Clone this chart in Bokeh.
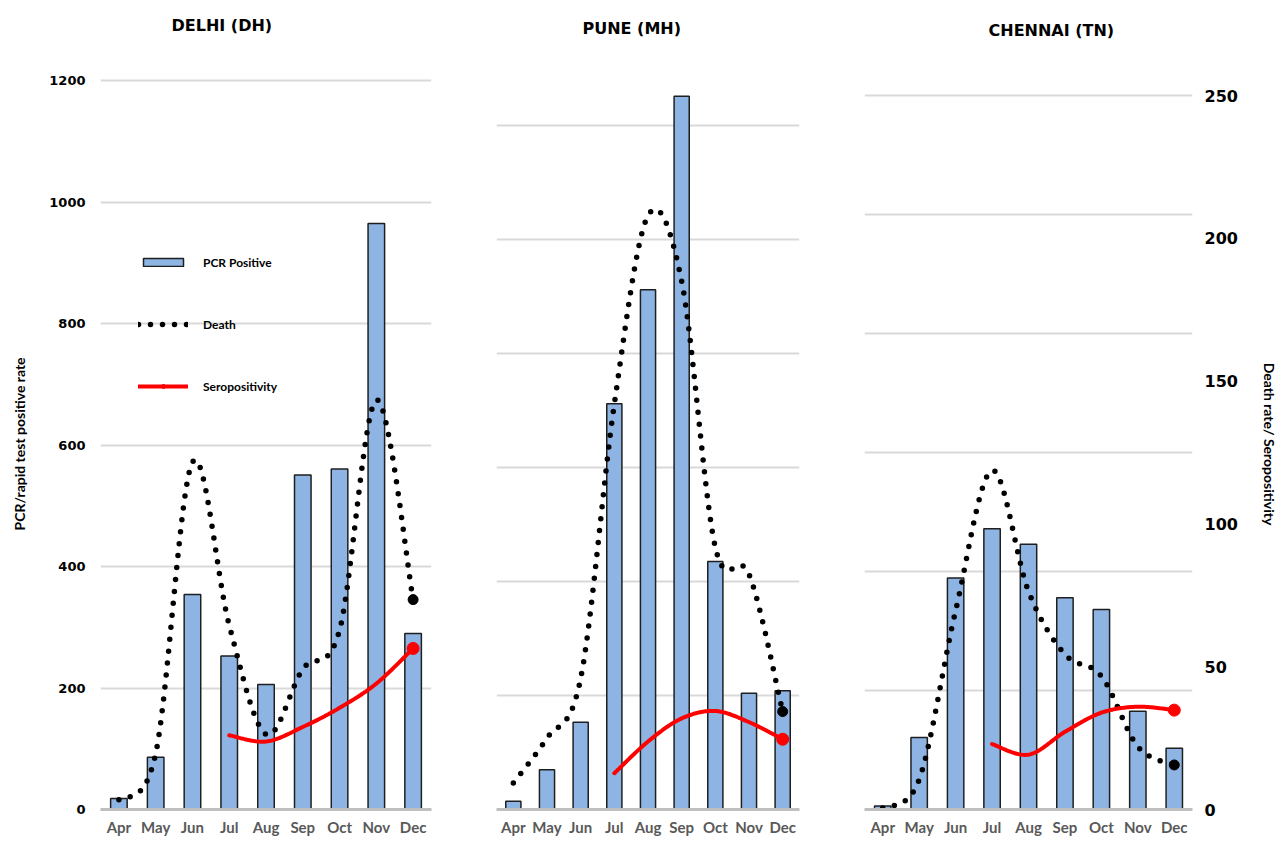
import numpy as np
from bokeh.plotting import figure
from bokeh.models import Range1d, LinearAxis, FixedTicker, Legend, LegendItem, Title
from bokeh.layouts import row
from bokeh.embed import file_html
from bokeh.resources import INLINE

# ---------------- data ----------------
months = ["Apr", "May", "Jun", "Jul", "Aug", "Sep", "Oct", "Nov", "Dec"]
sero_months = ["Jul", "Aug", "Sep", "Oct", "Nov", "Dec"]

delhi_pcr = [18, 86, 354, 253, 206, 551, 561, 965, 290]
delhi_death = [3.4, 19.5, 121.7, 64.5, 26.3, 49.2, 62.8, 143.4, 73.5]
delhi_sero = [26.0, 23.8, 28.9, 35.6, 44.1, 56.4]

pune_pcr = [36, 174, 383, 1779, 2280, 3128, 1088, 510, 521]
pune_death = [9.3, 25.0, 45.9, 142.0, 208.0, 185.0, 91.8, 82.4, 34.3]
pune_sero = [12.7, 23.8, 31.9, 34.5, 30.6, 24.6]

chennai_pcr = [6, 121, 389, 472, 446, 356, 336, 165, 103]
chennai_death = [0.5, 10.5, 69.6, 118.8, 76.4, 54.3, 46.7, 22.0, 15.6]
chennai_sero = [22.9, 19.2, 27.2, 33.9, 36.0, 34.8]

delhi_ticks = [0, 200, 400, 600, 800, 1000, 1200]
pune_ticks = [0, 500, 1000, 1500, 2000, 2500, 3000]
chennai_ticks = [0, 200, 400, 600, 800, 1000, 1200]
right_ticks = [0, 50, 100, 150, 200, 250]

# ---------------- style ----------------
BAR_FILL = "#8DB4E2"
BAR_LINE = "#1f1f1f"
GRID = "#d9d9d9"
AXIS_GRAY = "#bfbfbf"
LABEL_GRAY = "#595959"
SEC_END = 256
FIG_H = 838


def smooth(xs, ys, n=24):
    pts = list(zip(xs, ys))
    ox, oy = [], []
    m = len(pts)
    for i in range(m - 1):
        p0 = pts[i - 1] if i > 0 else pts[i]
        p1 = pts[i]
        p2 = pts[i + 1]
        p3 = pts[i + 2] if i + 2 < m else pts[i + 1]
        c1 = (p1[0] + (p2[0] - p0[0]) / 6.0, p1[1] + (p2[1] - p0[1]) / 6.0)
        c2 = (p2[0] - (p3[0] - p1[0]) / 6.0, p2[1] - (p3[1] - p1[1]) / 6.0)
        t = np.linspace(0, 1, n, endpoint=(i == m - 2))
        a = (1 - t) ** 3
        b = 3 * (1 - t) ** 2 * t
        c = 3 * (1 - t) * t ** 2
        d = t ** 3
        ox.extend(a * p1[0] + b * c1[0] + c * c2[0] + d * p2[0])
        oy.extend(a * p1[1] + b * c1[1] + c * c2[1] + d * p2[1])
    return ox, oy


def style_axis(ax, size):
    ax.axis_line_color = None
    ax.major_tick_line_color = None
    ax.minor_tick_line_color = None
    ax.major_tick_out = 0
    ax.minor_tick_out = 0
    ax.major_tick_in = 0
    ax.minor_tick_in = 0
    ax.major_label_text_font = "DejaVu Sans"
    ax.major_label_text_font_style = "bold"
    ax.major_label_text_font_size = size
    ax.major_label_text_color = "black"
    ax.axis_label_text_font = "Lato"
    ax.axis_label_text_font_style = "bold"
    ax.axis_label_text_font_size = "14px"
    ax.axis_label_text_color = "black"


def make_panel(title, pcr, death, sero, ticks, yend, width, bl, br,
               title_offset, gap, show_left=False, show_right=False, legend=False):
    p = figure(width=width, height=FIG_H, output_backend="svg", toolbar_location=None,
               x_range=Range1d(-0.5, len(months) - 0.5), y_range=Range1d(0, yend),
               min_border_left=bl, min_border_right=br, min_border_top=78,
               min_border_bottom=29)
    p.extra_y_ranges = {"sec": Range1d(0, SEC_END)}
    p.outline_line_color = None
    p.background_fill_color = "white"
    p.border_fill_color = "white"

    # spacer panel between the frame and the title, then the title itself
    p.title.text = ""
    p.title.standoff = 0
    p.add_layout(Title(text=" ", text_font_size="16px", standoff=gap), "above")
    p.add_layout(Title(text=title, align="left", offset=title_offset, standoff=10,
                       text_font="DejaVu Sans", text_font_style="bold",
                       text_font_size="16px", text_color="black"), "above")

    xi = list(range(len(months)))
    p.xaxis.ticker = FixedTicker(ticks=xi)
    p.xaxis.major_label_overrides = {i: m for i, m in enumerate(months)}
    p.xaxis.axis_line_color = AXIS_GRAY
    p.xaxis.axis_line_width = 3
    p.xaxis.major_tick_line_color = None
    p.xaxis.minor_tick_line_color = None
    p.xaxis.major_tick_out = 0
    p.xaxis.minor_tick_out = 0
    p.xaxis.major_tick_in = 0
    p.xaxis.minor_tick_in = 0
    p.xaxis.major_label_text_color = LABEL_GRAY
    p.xaxis.major_label_text_font = "Lato"
    p.xaxis.major_label_text_font_style = "bold"
    p.xaxis.major_label_text_font_size = "15px"
    p.xaxis.major_label_standoff = 8
    p.xgrid.visible = False

    p.ygrid.ticker = FixedTicker(ticks=ticks)
    p.ygrid.grid_line_color = GRID
    p.ygrid.grid_line_width = 2
    p.yaxis.ticker = FixedTicker(ticks=ticks)
    if show_left:
        style_axis(p.yaxis[0], "13px")
        p.yaxis.major_label_standoff = 15
        p.yaxis.axis_label = "PCR/rapid test positive rate"
        p.yaxis.axis_label_standoff = 18
    else:
        p.yaxis.visible = False

    if show_right:
        ax = LinearAxis(y_range_name="sec", ticker=FixedTicker(ticks=right_ticks))
        style_axis(ax, "16px")
        ax.major_label_standoff = 12
        ax.axis_label = "Death rate/ Seropositivity"
        ax.axis_label_standoff = 20
        p.add_layout(ax, "right")

    bars = p.vbar(x=xi, top=pcr, width=0.45, fill_color=BAR_FILL,
                  line_color=BAR_LINE, line_width=1.5)

    dx, dy = smooth(xi, death)
    dline = p.line(dx, dy, y_range_name="sec", line_color="black", line_width=5.5,
                   line_dash="0 12", line_cap="round")
    p.scatter([xi[-1]], [death[-1]], y_range_name="sec", size=10,
              fill_color="black", line_color="black")

    s0 = months.index(sero_months[0])
    sxi = [s0 + k for k in range(len(sero_months))]
    sx, sy = smooth(sxi, sero)
    sline = p.line(sx, sy, y_range_name="sec", line_color="#ff0000", line_width=4,
                   line_cap="round")
    send = p.scatter([sxi[-1]], [sero[-1]], y_range_name="sec", size=12,
                     fill_color="#ff0000", line_color="#ff0000")

    if legend:
        lg = Legend(items=[
            LegendItem(label="PCR Positive", renderers=[bars]),
            LegendItem(label="Death", renderers=[dline]),
            LegendItem(label="Seropositivity", renderers=[sline, send]),
        ], location=(38, 413))
        lg.border_line_color = None
        lg.background_fill_alpha = 0
        lg.glyph_width = 50
        lg.glyph_height = 10
        lg.label_height = 20
        lg.label_standoff = 15
        lg.spacing = 42
        lg.padding = 0
        lg.margin = 0
        lg.label_text_font = "Lato"
        lg.label_text_font_style = "bold"
        lg.label_text_font_size = "12px"
        lg.label_text_color = "black"
        p.add_layout(lg, "center")
    return p


delhi = make_panel("DELHI  (DH)", delhi_pcr, delhi_death, delhi_sero,
                   delhi_ticks, 1204, 460, 100, 29, 71, 20,
                   show_left=True, legend=True)
pune = make_panel("PUNE  (MH)", pune_pcr, pune_death, pune_sero,
                  pune_ticks, 3206, 370, 36, 31, 86, 17)
chennai = make_panel("CHENNAI  (TN)", chennai_pcr, chennai_death, chennai_sero,
                     chennai_ticks, 1228.6, 450, 34, 87, 124, 15, show_right=True)

layout = row(delhi, pune, chennai)
open("out.html", "w").write(file_html(layout, INLINE))
